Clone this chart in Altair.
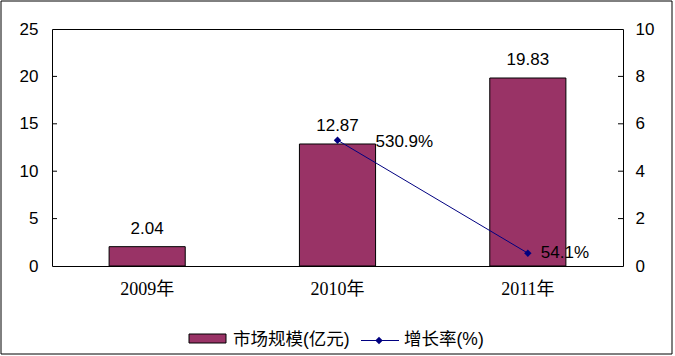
import altair as alt
import pandas as pd

years = ["2009年", "2010年", "2011年"]
market = [2.04, 12.87, 19.83]
growth_pct = [None, 530.9, 54.1]
left_tick_values = [0, 5, 10, 15, 20, 25]
right_tick_values = [0, 2, 4, 6, 8, 10]
left_inner_ticks = [5, 10, 15, 20]
right_inner_ticks = [2, 4, 6, 8]
legend_labels = ["市场规模(亿元)", "增长率(%)"]

BAR = "#993366"
NAVY = "#000080"
SANS = "Liberation Sans, Noto Sans CJK SC"
SERIF = "Liberation Serif, Noto Sans CJK SC"

bar_df = pd.DataFrame({"year": years, "value": market})
line_df = pd.DataFrame({"year": years, "pct": growth_pct}).dropna()
line_df["rate"] = line_df["pct"] / 100.0
line_df["label"] = line_df["pct"].map(lambda v: f"{v:.1f}%")

xscale = alt.Scale(domain=years, paddingInner=0.6, paddingOuter=0.3)
xaxis = alt.Axis(title=None, labelFont=SERIF, labelFontSize=18, labelColor="#000",
                 ticks=False, domain=False, labelPadding=14, labelAngle=0)
X = alt.X("year:N", scale=xscale, axis=xaxis, sort=years)

lscale = alt.Scale(domain=[0, 25], nice=False, zero=True)
laxis = alt.Axis(title=None, values=left_tick_values, labelFont=SANS, labelFontSize=17,
                 labelColor="#000", ticks=False, domain=False, grid=False, labelPadding=14)
rscale = alt.Scale(domain=[0, 10], nice=False, zero=True)
raxis = alt.Axis(title=None, orient="right", values=right_tick_values, labelFont=SANS,
                 labelFontSize=17, labelColor="#000", ticks=False, domain=False,
                 grid=False, labelPadding=12)

bars = alt.Chart(bar_df).mark_bar(color=BAR, stroke="#000", strokeWidth=1).encode(
    x=X, y=alt.Y("value:Q", scale=lscale, axis=laxis)
)
bar_text = alt.Chart(bar_df).mark_text(font=SANS, fontSize=17, color="#000",
                                       baseline="alphabetic", dy=-13).encode(
    x=X, y=alt.Y("value:Q", scale=lscale, axis=laxis),
    text=alt.Text("value:Q", format=".2f"),
)
lticks = alt.Chart(pd.DataFrame({"t": left_inner_ticks})).mark_rule(color="#000", strokeWidth=1).encode(
    x=alt.value(0), x2=alt.value(5), y=alt.Y("t:Q", scale=lscale, axis=laxis)
)
left = alt.layer(bars, bar_text, lticks)

Yr = alt.Y("rate:Q", scale=rscale, axis=raxis)
line = alt.Chart(line_df).mark_line(color=NAVY, strokeWidth=1).encode(x=X, y=Yr)
pts = alt.Chart(line_df).mark_point(shape="diamond", filled=True, size=55, color=NAVY, opacity=1).encode(x=X, y=Yr)
pct1 = alt.Chart(line_df).transform_filter(alt.datum.year == years[1]).mark_text(
    font=SANS, fontSize=17, color="#000", align="left", baseline="middle", dx=38, dy=2
).encode(x=X, y=Yr, text="label:N")
pct2 = alt.Chart(line_df).transform_filter(alt.datum.year == years[2]).mark_text(
    font=SANS, fontSize=17, color="#000", align="left", baseline="middle", dx=13, dy=0
).encode(x=X, y=Yr, text="label:N")
rticks = alt.Chart(pd.DataFrame({"t": right_inner_ticks})).mark_rule(color="#000", strokeWidth=1).encode(
    x=alt.value(566), x2=alt.value(571), y=alt.Y("t:Q", scale=rscale, axis=raxis)
)
right = alt.layer(line, pts, pct1, pct2, rticks)

one = pd.DataFrame({"a": [0]})
border = alt.Chart(one).mark_rect(fill=None, stroke="#000", strokeWidth=1).encode(
    x=alt.value(-51), x2=alt.value(620), y=alt.value(-28), y2=alt.value(325)
)
leg_rect = alt.Chart(one).mark_rect(color=BAR, stroke="#000", strokeWidth=1).encode(
    x=alt.value(137), x2=alt.value(174), y=alt.value(305), y2=alt.value(314)
)
leg_t1 = alt.Chart(one).mark_text(font=SANS, fontSize=17.5, color="#000", align="left",
                                  baseline="middle", text=legend_labels[0]).encode(
    x=alt.value(181), y=alt.value(311)
)
leg_line = alt.Chart(one).mark_rule(color=NAVY, strokeWidth=1).encode(
    x=alt.value(309), x2=alt.value(347), y=alt.value(311.5)
)
leg_pt = alt.Chart(one).mark_point(shape="diamond", filled=True, size=55, color=NAVY, opacity=1).encode(
    x=alt.value(327), y=alt.value(311.5)
)
leg_t2 = alt.Chart(one).mark_text(font=SANS, fontSize=17.5, color="#000", align="left",
                                  baseline="middle", text=legend_labels[1]).encode(
    x=alt.value(352), y=alt.value(311)
)
deco = alt.layer(border, leg_rect, leg_t1, leg_line, leg_pt, leg_t2)

chart = alt.layer(left, right, deco).resolve_scale(y="independent").properties(
    width=571, height=237,
    padding={"left": 52, "top": 29, "right": 52, "bottom": 90},
    autosize=alt.AutoSizeParams(type="none"),
    background="#ffffff",
).configure_view(stroke="#000", strokeWidth=1)

chart.save("out.html", embed_options={"renderer": "svg", "actions": False})
